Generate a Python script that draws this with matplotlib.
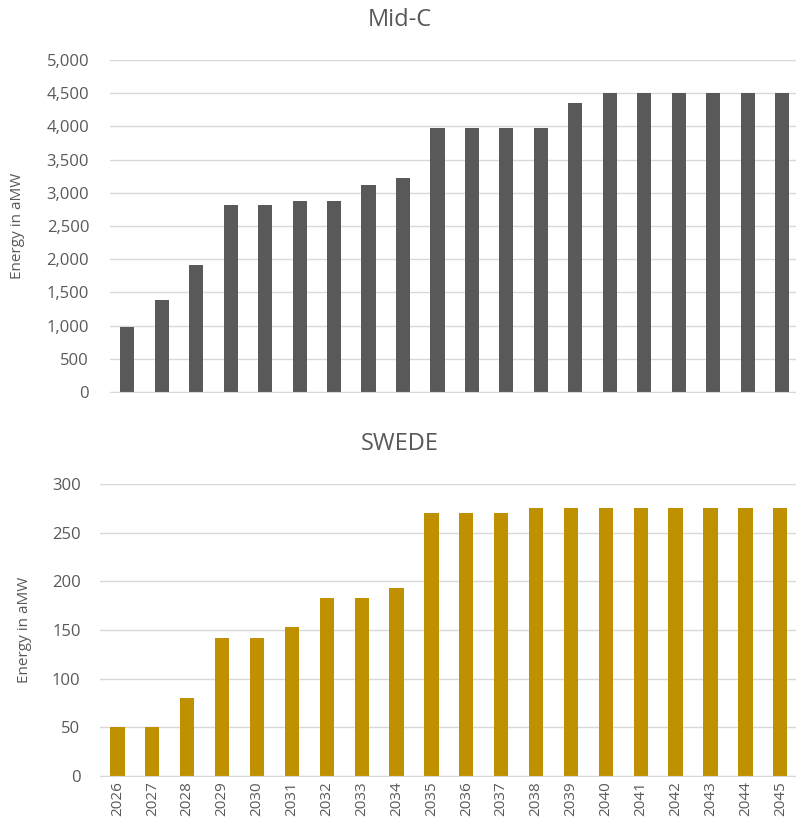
import matplotlib
matplotlib.use("Agg")
import matplotlib.pyplot as plt
import numpy as np
from matplotlib.ticker import FuncFormatter

years = [str(y) for y in range(2026, 2046)]
midc = [980, 1380, 1910, 2810, 2810, 2880, 2880, 3110, 3220, 3970,
        3970, 3970, 3970, 4350, 4500, 4500, 4500, 4500, 4500, 4500]
swede = [50, 50, 80, 142, 142, 153, 183, 183, 193, 270,
         270, 270, 275, 275, 275, 275, 275, 275, 275, 275]

plt.rcParams['font.family'] = ['Open Sans', 'DejaVu Sans']
W, H = 796, 826
fig = plt.figure(figsize=(W / 100, H / 100), dpi=100)

grey_text = '#595959'
grid_c = '#d9d9d9'

def style(ax, ymax, step, fmt, pad):
    ax.set_ylim(0, ymax)
    ax.set_yticks(np.arange(0, ymax + 1, step))
    ax.yaxis.set_major_formatter(FuncFormatter(fmt))
    ax.grid(axis='y', color=grid_c, linewidth=1)
    ax.set_axisbelow(True)
    for s in ['top', 'right', 'left']:
        ax.spines[s].set_visible(False)
    ax.spines['bottom'].set_color(grid_c)
    ax.tick_params(axis='y', length=0, labelsize=12, colors=grey_text, pad=pad)
    ax.tick_params(axis='x', length=0)

# top axes: x 110..799, y 60..392
ax1 = fig.add_axes([110 / W, 1 - 392 / H, (796 - 110) / W, (392 - 60) / H])
x = np.arange(len(years))
ax1.bar(x, midc, width=0.41, color='#595959')
ax1.set_xlim(-0.5, len(years) - 0.6)
style(ax1, 5000, 500, lambda v, p: f'{int(v):,}', 15)
ax1.set_xticks(x)
ax1.set_xticklabels([])
fig.text(400 / W, 1 - 20 / H, 'Mid-C', fontsize=17, color=grey_text,
         ha='center', va='center')
fig.text(18 / W, 1 - 226 / H, 'Energy in aMW', fontsize=11, color=grey_text,
         ha='center', va='center', rotation=90)

# bottom axes: x 100..798, y 484..776
ax2 = fig.add_axes([100 / W, 1 - 776 / H, (796 - 100) / W, (776 - 484) / H])
ax2.bar(x, swede, width=0.41, color='#BF9000')
ax2.set_xlim(-0.5, len(years) - 0.55)
style(ax2, 300, 50, lambda v, p: f'{int(v)}', 14)
ax2.set_xticks(x)
ax2.set_xticklabels(years, rotation=90, fontsize=11, color=grey_text)
ax2.tick_params(axis='x', pad=4)
fig.text(400 / W, 1 - 444 / H, 'SWEDE', fontsize=17, color=grey_text,
         ha='center', va='center')
fig.text(25 / W, 1 - 630 / H, 'Energy in aMW', fontsize=11, color=grey_text,
         ha='center', va='center', rotation=90)

fig.savefig('out.png', dpi=100)
